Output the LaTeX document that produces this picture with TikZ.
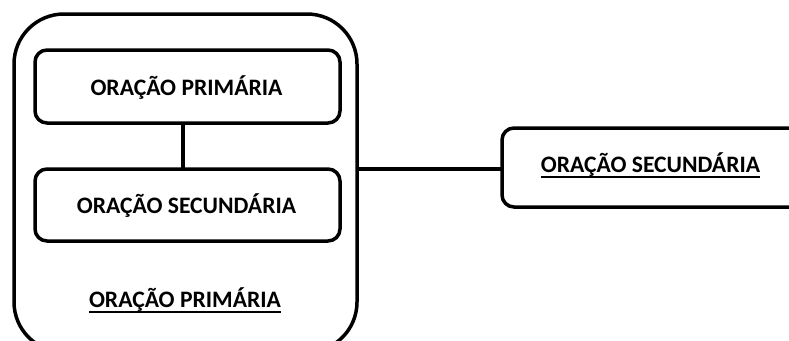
\documentclass[tikz,border=0pt]{standalone}
\usepackage{fontspec}
\setmainfont{Carlito}
\usetikzlibrary{calc}
\begin{document}
\begin{tikzpicture}[x=1pt,y=-1pt,
  box/.style={draw=black,line width=3.5pt,rounded corners=12pt},
  outerbox/.style={draw=black,line width=3.5pt,rounded corners=50pt},
  link/.style={draw=black,line width=3.5pt},
  uline/.style={draw=black,line width=2pt},
  lbl/.style={font=\fontsize{23.6}{28}\selectfont\bfseries,inner sep=0pt,anchor=base}]
  \useasboundingbox (0,0) rectangle (789,340);
  \clip (0,0) rectangle (789,340);
  % group frame, open below the page edge
  \draw[outerbox] (14,14) rectangle (357,352);
  % inner clauses
  \draw[box] (35,50) rectangle (340,123);
  \draw[box] (35,169) rectangle (340,241);
  \node[lbl] (prim) at (186.5,95) {ORAÇÃO PRIMÁRIA};
  \node[lbl] (sec) at (186.5,213) {ORAÇÃO SECUNDÁRIA};
  \coordinate (b1) at (183,123);
  \coordinate (b2) at (183,169);
  \draw[link] (b1) -- (b2);
  \node[lbl] (grp) at (185,307) {ORAÇÃO PRIMÁRIA};
  \draw[uline] ($(grp.base west)+(0,5)$) -- ($(grp.base east)+(0,5)$);
  % detached clause on the right
  \draw[box] (502,128) rectangle (820,207);
  \node[lbl] (right) at (650.5,172) {ORAÇÃO SECUNDÁRIA};
  \draw[uline] ($(right.base west)+(0,5)$) -- ($(right.base east)+(0,5)$);
  \coordinate (o) at (357,169);
  \coordinate (r) at (502,169);
  \draw[link] (o) -- (r);
\end{tikzpicture}
\end{document}
